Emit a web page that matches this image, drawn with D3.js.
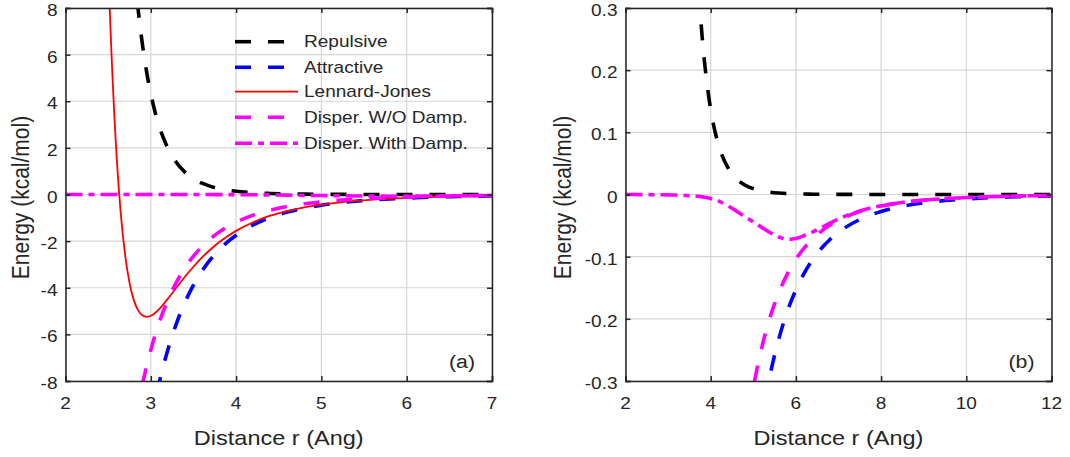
<!DOCTYPE html>
<html>
<head>
<meta charset="utf-8">
<script src="https://cdn.jsdelivr.net/npm/d3@7"></script>
<style>
  html, body { margin: 0; padding: 0; background: #fff; }
  svg { display: block; }
  text { font-family: "Liberation Sans", Arial, Helvetica, sans-serif; fill: #262626; }
</style>
</head>
<body>
<script>
// ---------------- data ----------------
const distance = [2.0, 2.25, 2.5, 2.55, 2.6, 2.65, 2.7, 2.75, 2.8, 2.85, 2.9, 2.95, 3.0, 3.05, 3.1, 3.15, 3.2,
  3.3, 3.4, 3.5, 3.6, 3.7, 3.8, 3.9, 4.0, 4.2, 4.4, 4.6, 4.8, 5.0, 5.2, 5.4, 5.6, 5.8, 6.0, 6.2, 6.4, 6.6, 6.8, 7.0,
  7.5, 8.0, 8.5, 9.0, 9.5, 10, 10.5, 11, 11.5, 12];

const repulsive = [560.3, 136.3, 38.50, 30.36, 24.05, 19.14, 15.29, 12.27, 9.883, 7.991, 6.486, 5.283, 4.318, 3.542, 2.914, 2.405, 1.991,
  1.376, 0.9617, 0.6792, 0.4843, 0.3486, 0.2532, 0.1854, 0.1368, 0.0762, 0.0436, 0.0256, 0.0153, 0.0094, 0.0059, 0.0037, 0.0024, 0.0016, 0.0011, 0.0007, 0.0005, 0.0003, 0.0002, 0.0002,
  0.0001, 0.0000, 0, 0, 0, 0, 0, 0, 0, 0];

const attractive = [-111.7, -55.11, -29.29, -26.01, -23.15, -20.65, -18.46, -16.53, -14.84, -13.34, -12.02, -10.85, -9.808, -8.882, -8.056, -7.319, -6.659,
  -5.536, -4.628, -3.890, -3.285, -2.787, -2.375, -2.032, -1.746, -1.303, -0.985, -0.755, -0.585, -0.458, -0.3617, -0.2884, -0.2318, -0.1878, -0.1532, -0.1259, -0.1040, -0.0865, -0.0723, -0.0608,
  -0.0402, -0.0273, -0.0190, -0.0135, -0.0097, -0.0072, -0.0053, -0.0040, -0.0031, -0.0024];

const lennardJones = [451.9, 82.8, 10.07, 5.12, 1.58, -0.905, -2.62, -3.78, -4.52, -4.96, -5.18, -5.25, -5.20, -5.08, -4.91, -4.70, -4.47,
  -4.00, -3.53, -3.10, -2.70, -2.36, -2.05, -1.79, -1.56, -1.19, -0.91, -0.71, -0.55, -0.435, -0.345, -0.276, -0.223, -0.181, -0.148, -0.1215, -0.1005, -0.0837, -0.0700, -0.0588,
  -0.0389, -0.0265, -0.0184, -0.0131, -0.0094, -0.0069, -0.0052, -0.0039, -0.0030, -0.0023];

const disperNoDamp = [-75.94, -37.46, -19.91, -17.68, -15.73, -14.03, -12.54, -11.24, -10.09, -9.069, -8.171, -7.374, -6.667, -6.037, -5.476, -4.975, -4.526,
  -3.763, -3.146, -2.644, -2.233, -1.894, -1.614, -1.381, -1.187, -0.885, -0.670, -0.513, -0.397, -0.311, -0.2458, -0.1960, -0.1576, -0.1277, -0.1042, -0.0856, -0.0707, -0.0588, -0.0492, -0.0413,
  -0.0273, -0.0185, -0.0129, -0.0091, -0.0066, -0.0049, -0.0036, -0.0027, -0.0021, -0.0016];

const disperDamp = [0.0000, -0.0001, -0.0002, -0.0002, -0.0003, -0.0003, -0.0003, -0.0004, -0.0004, -0.0005, -0.0005, -0.0006, -0.0006, -0.0007, -0.0008, -0.0008, -0.0009,
  -0.0011, -0.0015, -0.0018, -0.0023, -0.0029, -0.0038, -0.0050, -0.0066, -0.0110, -0.0180, -0.0265, -0.0355, -0.0440, -0.0530, -0.0615, -0.0683, -0.0722, -0.0708, -0.0660, -0.0600, -0.0530, -0.0460, -0.0395,
  -0.0265, -0.0182, -0.0128, -0.0091, -0.0066, -0.0049, -0.0036, -0.0027, -0.0021, -0.0016];

const seriesNames = ["Repulsive", "Attractive", "Lennard-Jones", "Disper. W/O Damp.", "Disper. With Damp."];

const xTicksA = [2, 3, 4, 5, 6, 7];
const yTicksA = [-8, -6, -4, -2, 0, 2, 4, 6, 8];
const yTickLabelsA = ["-8", "-6", "-4", "-2", "0", "2", "4", "6", "8"];
const xTicksB = [2, 4, 6, 8, 10, 12];
const yTicksB = [-0.3, -0.2, -0.1, 0, 0.1, 0.2, 0.3];
const yTickLabelsB = ["-0.3", "-0.2", "-0.1", "0", "0.1", "0.2", "0.3"];

const xLabel = "Distance r (Ang)";
const yLabel = "Energy (kcal/mol)";

// ---------------- styles ----------------
const styles = [
  { values: repulsive,    color: "#000000", width: 3.6, dash: "16,17" },
  { values: attractive,   color: "#0000ff", width: 3.6, dash: "16,17" },
  { values: lennardJones, color: "#ff0000", width: 1.8, dash: null },
  { values: disperNoDamp, color: "#ff00ff", width: 3.6, dash: "16,17" },
  { values: disperDamp,   color: "#ff00ff", width: 3.6, dash: "17,6,6,6" }
];

const SX = 1.12; // horizontal text stretch seen in the reference
const W = 1070, H = 457;
const svg = d3.select("body").append("svg").attr("width", W).attr("height", H);

function hText(parent, x, y, str, size, anchor, baseline) {
  const t = parent.append("text")
    .attr("transform", `translate(${x},${y}) scale(${SX},1)`)
    .attr("text-anchor", anchor || "start").attr("font-size", size).text(str);
  if (baseline) t.attr("dominant-baseline", baseline);
  return t;
}

function drawPanel(opt) {
  const x = d3.scaleLinear().domain(opt.xDomain).range([opt.left, opt.right]);
  const y = d3.scaleLinear().domain(opt.yDomain).range([opt.bottom, opt.top]);
  const g = svg.append("g");
  const clipId = "clip" + opt.id;
  svg.append("defs").append("clipPath").attr("id", clipId)
    .append("rect").attr("x", opt.left).attr("y", opt.top)
    .attr("width", opt.right - opt.left).attr("height", opt.bottom - opt.top);

  // grid
  const grid = g.append("g");
  grid.selectAll("line.gx").data(opt.xTicks).enter().append("line")
    .attr("x1", d => x(d)).attr("x2", d => x(d)).attr("y1", opt.top).attr("y2", opt.bottom)
    .attr("stroke", "#d6d6d6").attr("stroke-width", 1.2);
  grid.selectAll("line.gy").data(opt.yTicks).enter().append("line")
    .attr("x1", opt.left).attr("x2", opt.right).attr("y1", d => y(d)).attr("y2", d => y(d))
    .attr("stroke", "#d6d6d6").attr("stroke-width", 1.2);

  // curves
  const pts = distance.map((r, i) => i);
  const curves = g.append("g").attr("clip-path", `url(#${clipId})`);
  opt.series.forEach(si => {
    const s = styles[si];
    const line = d3.line()
      .x(i => x(distance[i]))
      .y(i => y(s.values[i]))
      .curve(d3.curveMonotoneX);
    curves.append("path").attr("d", line(pts))
      .attr("fill", "none").attr("stroke", s.color).attr("stroke-width", s.width)
      .attr("stroke-dasharray", s.dash).attr("stroke-linejoin", "round");
  });

  // axes (box with inward ticks on all sides)
  const axisColor = "#262626";
  const axB = d3.axisBottom(x).tickValues(opt.xTicks).tickSize(-5).tickFormat("");
  const axT = d3.axisTop(x).tickValues(opt.xTicks).tickSize(-5).tickFormat("");
  const axL = d3.axisLeft(y).tickValues(opt.yTicks).tickSize(-5).tickFormat("");
  const axR = d3.axisRight(y).tickValues(opt.yTicks).tickSize(-5).tickFormat("");
  [[axB, `translate(0,${opt.bottom})`], [axT, `translate(0,${opt.top})`],
   [axL, `translate(${opt.left},0)`], [axR, `translate(${opt.right},0)`]].forEach(([ax, tr]) => {
    const a = g.append("g").attr("transform", tr).call(ax);
    a.select(".domain").attr("stroke", axisColor).attr("stroke-width", 1.5);
    a.selectAll(".tick line").attr("stroke", axisColor).attr("stroke-width", 1.5);
  });

  // tick labels
  opt.xTicks.forEach(d => hText(g, x(d), opt.bottom + 28, String(d), 17, "middle"));
  opt.yTicks.forEach((d, i) => hText(g, opt.left - 8, y(d) + 8, opt.yTickLabels[i], 17, "end"));

  // axis labels
  hText(g, (opt.left + opt.right) / 2, opt.bottom + 64, xLabel, 21, "middle");
  g.append("text")
    .attr("transform", `translate(${opt.yLabelX},${(opt.top + opt.bottom) / 2 + 3}) rotate(-90) scale(1,${SX})`)
    .attr("text-anchor", "middle").attr("dominant-baseline", "central").attr("font-size", 21).text(yLabel);

  // panel tag
  hText(g, opt.right - 30, opt.bottom - 13, opt.tag, 19, "middle");

  return { x, y, g };
}

drawPanel({ id: "A", left: 65.5, right: 492, top: 8, bottom: 381,
  xDomain: [2, 7], yDomain: [-8, 8], xTicks: xTicksA, yTicks: yTicksA, yTickLabels: yTickLabelsA,
  series: [0, 1, 2, 3, 4], yLabelX: 21, tag: "(a)" });

drawPanel({ id: "B", left: 625.5, right: 1051.5, top: 8, bottom: 381,
  xDomain: [2, 12], yDomain: [-0.3, 0.3], xTicks: xTicksB, yTicks: yTicksB, yTickLabels: yTickLabelsB,
  series: [0, 1, 3, 4], yLabelX: 563, tag: "(b)" });

// legend (panel a, no box)
const legend = svg.append("g");
const legendRows = [41.7, 67.3, 91.7, 117.3, 143.3];
seriesNames.forEach((name, i) => {
  const s = styles[i];
  legend.append("line").attr("x1", 235).attr("x2", 298).attr("y1", legendRows[i]).attr("y2", legendRows[i])
    .attr("stroke", s.color).attr("stroke-width", s.width).attr("stroke-dasharray", s.dash);
  hText(legend, 304, legendRows[i], name, 17, "start", "central");
});
</script>
</body>
</html>
